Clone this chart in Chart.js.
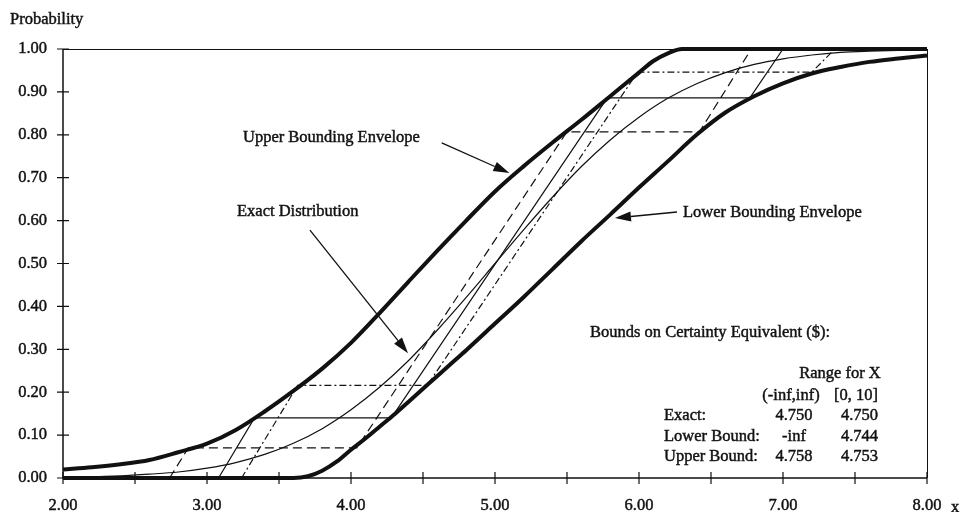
<!DOCTYPE html>
<html>
<head>
<meta charset="utf-8">
<script src="https://cdn.jsdelivr.net/npm/chart.js@4.4.1/dist/chart.umd.min.js"></script>
<style>
  html, body { margin: 0; padding: 0; background: #ffffff; }
  #wrap { width: 963px; height: 512px; position: relative; }
</style>
</head>
<body>
<div id="wrap"><canvas id="c" width="963" height="512"></canvas></div>
<script>
// Cumulative probability curves for the value x.
const upperX = [2.0, 2.2, 2.4, 2.6, 2.8, 3.0, 3.2, 3.4, 3.6, 3.8, 4.0, 4.2, 4.4, 4.6, 4.8, 5.0, 5.2, 5.4, 5.6, 5.8, 6.0, 6.1, 6.2, 6.3, 6.6, 7.0, 7.5, 8.0];
const upperP = [0.020, 0.025, 0.032, 0.042, 0.060, 0.080, 0.112, 0.155, 0.203, 0.255, 0.315, 0.385, 0.458, 0.530, 0.600, 0.668, 0.727, 0.782, 0.835, 0.890, 0.945, 0.972, 0.990, 1.000, 1.000, 1.000, 1.000, 1.000];

const lowerX = [2.0, 3.0, 3.6, 3.7, 3.8, 3.9, 4.0, 4.1, 4.2, 4.3, 4.4, 4.5, 4.6, 4.7, 4.8, 5.0, 5.2, 5.4, 5.6, 5.8, 6.0, 6.2, 6.4, 6.6, 6.8, 7.0, 7.2, 7.4, 7.6, 7.8, 8.0];
const lowerP = [0.000, 0.000, 0.000, 0.004, 0.017, 0.038, 0.066, 0.092, 0.120, 0.148, 0.178, 0.208, 0.238, 0.268, 0.298, 0.360, 0.422, 0.487, 0.552, 0.614, 0.677, 0.738, 0.800, 0.852, 0.890, 0.920, 0.943, 0.958, 0.970, 0.978, 0.985];

const exactX = [2.0, 2.4, 2.6, 2.8, 3.0, 3.2, 3.4, 3.6, 3.8, 4.0, 4.2, 4.4, 4.6, 4.8, 5.0, 5.2, 5.4, 5.6, 5.8, 6.0, 6.2, 6.4, 6.6, 6.8, 7.0, 7.2, 7.4, 7.6, 7.8, 8.0];
const exactP = [0.001, 0.005, 0.009, 0.014, 0.023, 0.036, 0.055, 0.081, 0.115, 0.159, 0.212, 0.274, 0.345, 0.421, 0.500, 0.579, 0.655, 0.726, 0.788, 0.841, 0.885, 0.919, 0.945, 0.964, 0.977, 0.986, 0.992, 0.995, 0.997, 0.999];

// Piecewise-linear approximations (dashed, solid, dash-dot).
const dashedX = [2.74, 2.87, 4.04, 5.50, 6.42, 6.78];
const dashedP = [0.000, 0.070, 0.070, 0.807, 0.807, 1.000];
const solidX = [3.08, 3.33, 4.28, 5.78, 6.77, 7.00];
const solidP = [0.000, 0.140, 0.140, 0.886, 0.886, 1.000];
const dashDotX = [3.24, 3.63, 4.53, 5.99, 7.20, 7.36];
const dashDotP = [0.000, 0.216, 0.216, 0.946, 0.946, 1.000];

// Tick labels.
const xTickLabels = ['2.00', '3.00', '4.00', '5.00', '6.00', '7.00', '8.00'];
const probTickLabels = ['0.00', '0.10', '0.20', '0.30', '0.40', '0.50', '0.60', '0.70', '0.80', '0.90', '1.00'];

// Certainty-equivalent table.
const tableColumns = ['(-inf,inf)', '[0, 10]'];
const tableRows = ['Exact:', 'Lower Bound:', 'Upper Bound:'];
const tableInfRange = ['4.750', '-inf', '4.758'];
const tableZeroTen = ['4.750', '4.744', '4.753'];

const FONT = '"Liberation Serif", "Times New Roman", serif';
const FONT_SIZE = 16.5;
const INK = '#111111';

function pts(xs, ps) { return xs.map((x, i) => ({ x: x, y: ps[i] })); }

// Text with a hairline outline so the serif glyphs read a little heavier.
function label(ctx, text, x, y) {
  ctx.strokeText(text, x, y);
  ctx.fillText(text, x, y);
}

function drawArrow(ctx, x1, y1, x2, y2, headLen, headW) {
  const ang = Math.atan2(y2 - y1, x2 - x1);
  const bx = x2 - headLen * Math.cos(ang);
  const by = y2 - headLen * Math.sin(ang);
  ctx.beginPath();
  ctx.moveTo(x1, y1);
  ctx.lineTo(bx, by);
  ctx.stroke();
  ctx.beginPath();
  ctx.moveTo(x2, y2);
  ctx.lineTo(bx + headW * Math.sin(ang), by - headW * Math.cos(ang));
  ctx.lineTo(bx - headW * Math.sin(ang), by + headW * Math.cos(ang));
  ctx.closePath();
  ctx.fill();
}

const framePlugin = {
  id: 'frame',
  beforeDatasetsDraw(chart) {
    const { ctx, chartArea: a, scales: { x, y } } = chart;
    ctx.save();
    ctx.strokeStyle = INK;
    // top and right border
    ctx.lineWidth = 1;
    ctx.beginPath();
    ctx.moveTo(a.left, a.top + 0.5);
    ctx.lineTo(a.right, a.top + 0.5);
    ctx.moveTo(a.right + 0.5, a.top);
    ctx.lineTo(a.right + 0.5, a.bottom);
    ctx.stroke();
    // axes
    ctx.lineWidth = 1.5;
    ctx.beginPath();
    ctx.moveTo(a.left, a.top);
    ctx.lineTo(a.left, a.bottom);
    ctx.lineTo(a.right, a.bottom);
    ctx.stroke();
    // tick marks crossing the axes
    ctx.lineWidth = 1.2;
    ctx.beginPath();
    x.ticks.forEach(t => {
      const px = x.getPixelForValue(t.value);
      ctx.moveTo(px, a.bottom - 6);
      ctx.lineTo(px, a.bottom + 6);
    });
    y.ticks.forEach(t => {
      const py = y.getPixelForValue(t.value);
      ctx.moveTo(a.left - 6, py);
      ctx.lineTo(a.left + 6, py);
    });
    ctx.stroke();
    ctx.restore();
  },
  afterDraw(chart) {
    const { ctx, chartArea: a, scales: { x, y } } = chart;
    const X = v => x.getPixelForValue(v);
    const Y = v => y.getPixelForValue(v);
    ctx.save();
    ctx.fillStyle = INK;
    ctx.strokeStyle = INK;
    ctx.font = FONT_SIZE + 'px ' + FONT;
    ctx.textBaseline = 'middle';
    ctx.lineWidth = 0.45;

    // axis titles
    ctx.textAlign = 'left';
    label(ctx, 'Probability', 10, a.top - 29);
    label(ctx, 'x', a.right + 24, a.bottom + 30);

    // curve annotations
    label(ctx, 'Upper Bounding Envelope', 243, 138);
    label(ctx, 'Exact Distribution', 237, 212);
    label(ctx, 'Lower Bounding Envelope', 683, 213);

    // certainty-equivalent table
    label(ctx, 'Bounds on Certainty Equivalent ($):', 590, 333);
    ctx.textAlign = 'center';
    label(ctx, 'Range for X', 840, 374);
    label(ctx, tableColumns[0], 791, 396);
    ctx.textAlign = 'right';
    label(ctx, tableColumns[1], 878, 396);
    tableRows.forEach((r, i) => {
      const ry = 416 + i * 20.5;
      ctx.textAlign = 'left';
      label(ctx, r, 664, ry);
      ctx.textAlign = 'center';
      label(ctx, tableInfRange[i], 794, ry);
      ctx.textAlign = 'right';
      label(ctx, tableZeroTen[i], 878, ry);
    });

    ctx.lineWidth = 1.3;
    drawArrow(ctx, X(4.63), Y(0.781), X(5.10), Y(0.711), 16, 5);
    drawArrow(ctx, X(3.715), Y(0.578), X(4.396), Y(0.291), 16, 5);
    drawArrow(ctx, X(6.264), Y(0.620), X(5.833), Y(0.606), 16, 5);
    ctx.restore();
  }
};

const thick = { borderColor: INK, borderWidth: 4, pointRadius: 0, cubicInterpolationMode: 'monotone', clip: false, fill: false };
const thin = { borderColor: INK, borderWidth: 1.2, pointRadius: 0, tension: 0, clip: false, fill: false };
const tickFont = { family: FONT, size: FONT_SIZE };

new Chart(document.getElementById('c'), {
  type: 'line',
  data: {
    datasets: [
      Object.assign({ label: 'Dashed approximation', data: pts(dashedX, dashedP), borderDash: [9, 5] }, thin),
      Object.assign({ label: 'Solid approximation', data: pts(solidX, solidP) }, thin),
      Object.assign({ label: 'Dash-dot approximation', data: pts(dashDotX, dashDotP), borderDash: [7, 3, 2, 3] }, thin),
      Object.assign({ label: 'Exact Distribution', data: pts(exactX, exactP) }, thin, { cubicInterpolationMode: 'monotone' }),
      Object.assign({ label: 'Lower Bounding Envelope', data: pts(lowerX, lowerP) }, thick),
      Object.assign({ label: 'Upper Bounding Envelope', data: pts(upperX, upperP) }, thick)
    ]
  },
  options: {
    responsive: false,
    animation: false,
    devicePixelRatio: 1,
    layout: { padding: { top: 49, right: 36, left: 0, bottom: 0 } },
    plugins: { legend: { display: false }, tooltip: { enabled: false } },
    scales: {
      x: {
        type: 'linear', min: 2, max: 8,
        grid: { display: false, drawTicks: false },
        border: { display: false },
        afterFit: s => { s.height = 34; },
        ticks: {
          stepSize: 0.5, padding: 18, maxRotation: 0, autoSkip: false,
          color: INK, font: tickFont, textStrokeColor: INK, textStrokeWidth: 0.45,
          callback: v => (Number.isInteger(v) ? xTickLabels[v - 2] : '')
        }
      },
      y: {
        type: 'linear', min: 0, max: 1,
        grid: { display: false, drawTicks: false },
        border: { display: false },
        afterFit: s => { s.width = 63; },
        ticks: {
          stepSize: 0.1, padding: 16, autoSkip: false,
          color: INK, font: tickFont, textStrokeColor: INK, textStrokeWidth: 0.45,
          callback: v => probTickLabels[Math.round(v * 10)]
        }
      }
    }
  },
  plugins: [framePlugin]
});
</script>
</body>
</html>
